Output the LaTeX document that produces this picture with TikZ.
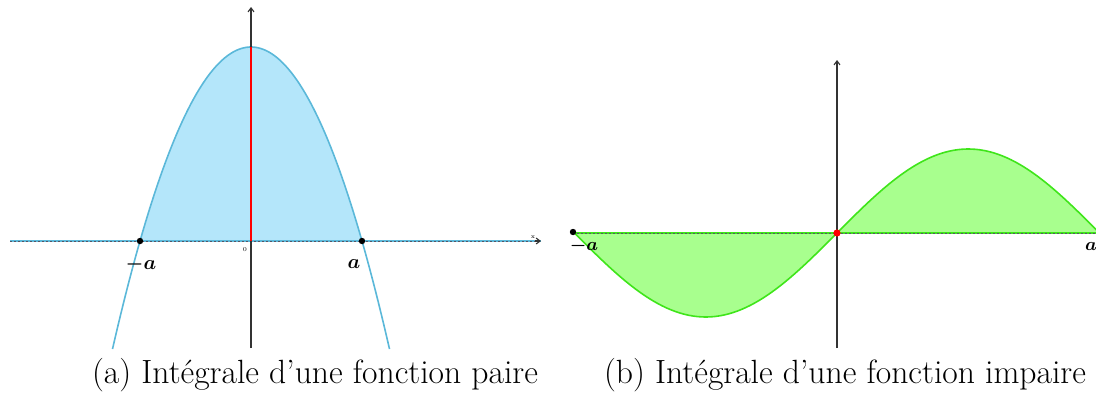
\documentclass[tikz,border=0pt]{standalone}
\usepackage{amsmath,bm}
\usetikzlibrary{arrows.meta}
\definecolor{lblue}{HTML}{B4E6FA}
\definecolor{cblue}{HTML}{5BB8D9}
\definecolor{lgreen}{HTML}{A8FF8E}
\definecolor{cgreen}{HTML}{3FE51A}
\definecolor{axisgray}{HTML}{333333}
\definecolor{dashgray}{HTML}{555566}
\tikzset{
  axisline/.style={axisgray, line width=0.55pt, -{Straight Barb[length=2pt,width=3pt]}},
  xaxisback/.style={line width=1pt},
  xaxisdash/.style={dashgray, line width=0.5pt, dash pattern=on 1pt off 1pt},
  dotpt/.style={circle, fill=black, inner sep=0pt, minimum size=3.2pt},
  reddot/.style={circle, fill=red, inner sep=0pt, minimum size=3.6pt},
  alabel/.style={font=\normalsize},
  slabel/.style={font=\small},
  tinylabel/.style={font=\fontsize{3}{3}\selectfont, inner sep=0pt},
  captionnode/.style={font=\fontsize{16.8}{19}\selectfont, anchor=base, inner sep=0pt}
}
\begin{document}
\begin{tikzpicture}[x=0.5pt,y=-0.5pt]
\useasboundingbox (0,0) rectangle (1096,392);
% ---------- left panel ----------
\coordinate (LxS) at (10,241);
\coordinate (LxE) at (541,241);
\coordinate (LyS) at (251,348);
\coordinate (LyE) at (251,7);
\coordinate (Ltop) at (251,47);
\coordinate (Lorig) at (251,241);
\fill[lblue] plot[domain=-111:111,samples=80] ({251+\x},{47+194*(\x/111)*(\x/111)}) -- cycle;
\draw[cblue, line width=0.8pt] plot[domain=-138.5:138.5,samples=100] ({251+\x},{47+194*(\x/111)*(\x/111)});
\draw[cblue, xaxisback] (LxS) -- (LxE);
\draw[xaxisdash] (LxS) -- (LxE);
\draw[axisline] (LxE) ++(-6,0) -- (LxE);
\draw[axisline] (LyS) -- (LyE);
\draw[red, line width=1.1pt] (Ltop) -- (Lorig);
\node[dotpt] (Lma) at (140,241) {};
\node[dotpt] (Lpa) at (362,241) {};
\node[alabel] (LmaL) at (141,264) {$\bm{-a}$};
\node[alabel] (LpaL) at (354,264) {$\bm{a}$};
\node[tinylabel] (Lzero) at (245,250) {0};
\node[tinylabel] (Lx) at (533,237) {x};
% ---------- right panel ----------
\coordinate (RxS) at (573,233);
\coordinate (RxE) at (1096,233);
\coordinate (RyS) at (837,348);
\coordinate (RyE) at (837,60);
\fill[lgreen] plot[domain=-263:262,samples=120] ({837+\x},{233-84*sin(\x/262.5*180)}) -- cycle;
\draw[cgreen, line width=0.8pt] plot[domain=-263:262,samples=120] ({837+\x},{233-84*sin(\x/262.5*180)});
\draw[cgreen, xaxisback] (RxS) -- (RxE);
\draw[xaxisdash] (RxS) -- (RxE);
\draw[axisline] (RyS) -- (RyE);
\node[dotpt] (Rma) at (573,232) {};
\node[reddot] (Rorig) at (837,233) {};
\node[slabel] (RmaL) at (584,246) {$\bm{-a}$};
\node[slabel] (RpaL) at (1091,246) {$\bm{a}$};
% ---------- captions ----------
\node[captionnode] (capa) at (315,383) {(a) Intégrale d’une fonction paire};
\node[captionnode] (capb) at (845,383) {(b) Intégrale d’une fonction impaire};
\end{tikzpicture}
\end{document}
